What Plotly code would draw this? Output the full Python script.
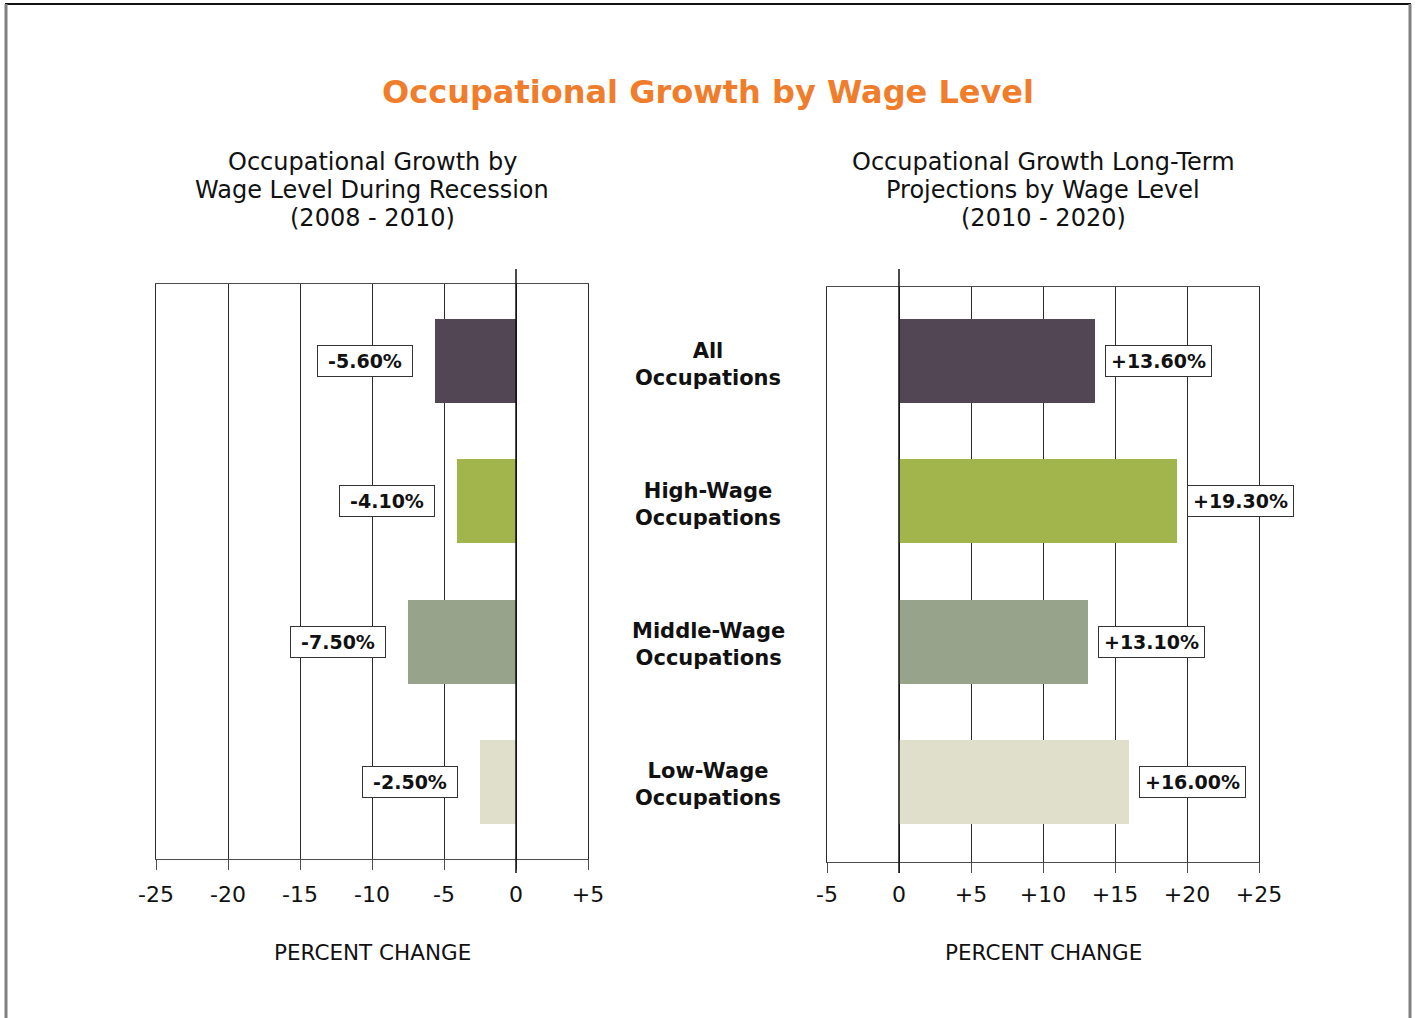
import plotly.graph_objects as go

# ---- data ----
categories = ["All<br>Occupations", "High-Wage<br>Occupations", "Middle-Wage<br>Occupations", "Low-Wage<br>Occupations"]
recession_change = [-5.6, -4.1, -7.5, -2.5]
projection_change = [13.6, 19.3, 13.1, 16.0]
bar_colors = ["#524554", "#A1B54C", "#97A38A", "#DFDFCB"]
left_tickvals = [-25, -20, -15, -10, -5, 0, 5]
left_ticktext = ["-25", "-20", "-15", "-10", "-5", "0", "+5"]
right_tickvals = [-5, 0, 5, 10, 15, 20, 25]
right_ticktext = ["-5", "0", "+5", "+10", "+15", "+20", "+25"]
left_subtitle = ["Occupational Growth by", "Wage Level During Recession", "(2008 - 2010)"]
right_subtitle = ["Occupational Growth Long-Term", "Projections by Wage Level", "(2010 - 2020)"]

W, H = 1418, 1018
FONT = "Verdana, DejaVu Sans, sans-serif"

def px(x):
    return x / W

def py(y):
    return (H - y) / H

ypos = list(range(len(categories)))

fig = go.Figure()
fig.add_trace(go.Bar(x=recession_change, y=ypos, orientation="h", width=0.6,
                     marker=dict(color=bar_colors, line=dict(width=0)),
                     xaxis="x", yaxis="y", hoverinfo="skip", showlegend=False))
fig.add_trace(go.Bar(x=projection_change, y=ypos, orientation="h", width=0.6,
                     marker=dict(color=bar_colors, line=dict(width=0)),
                     xaxis="x2", yaxis="y2", hoverinfo="skip", showlegend=False))

axis_common = dict(showgrid=True, gridcolor="#2b2b2b", gridwidth=1, zeroline=False,
                   showline=True, linecolor="#4d4d4d", linewidth=1, mirror=True,
                   ticks="outside", ticklen=10, tickcolor="#4d4d4d", tickwidth=1,
                   automargin=False,
                   tickfont=dict(family=FONT, size=22, color="#111"), fixedrange=True)
yaxis_common = dict(showticklabels=False, showgrid=False,
                    zeroline=False, showline=True, linecolor="#2b2b2b", linewidth=1,
                    mirror=True, ticks="", fixedrange=True, automargin=False)

shift = 3 / 140.0  # right panel frame sits 3px lower while bars align with left panel

fig.update_layout(
    width=W, height=H, margin=dict(l=0, r=0, t=0, b=0, pad=0, autoexpand=False),
    paper_bgcolor="white", plot_bgcolor="white", bargap=0, showlegend=False,
    xaxis=dict(domain=[px(156), px(588)], range=[-25, 5], tickvals=left_tickvals,
               ticktext=left_ticktext, anchor="y", ticklabelstandoff=6, **axis_common),
    yaxis=dict(domain=[py(859), py(284)], range=[3.55, -0.55], anchor="x", **yaxis_common),
    xaxis2=dict(domain=[px(827), px(1259)], range=[-5, 25], tickvals=right_tickvals,
                ticktext=right_ticktext, anchor="y2", ticklabelstandoff=3, **axis_common),
    yaxis2=dict(domain=[py(862), py(287)], range=[3.55 + shift, -0.55 + shift],
                anchor="x2", **yaxis_common),
)

shapes = [
    # zero lines extending beyond plot area
    dict(type="line", xref="x", yref="paper", x0=0, x1=0, y0=py(873), y1=py(269),
         line=dict(color="#111", width=1.5)),
    dict(type="line", xref="x2", yref="paper", x0=0, x1=0, y0=py(873), y1=py(269),
         line=dict(color="#111", width=1.5)),
    # outer frame
    dict(type="line", xref="paper", yref="paper", x0=px(5), x1=px(1411), y0=py(4), y1=py(4),
         line=dict(color="#111", width=2)),
    dict(type="line", xref="paper", yref="paper", x0=px(6), x1=px(6), y0=py(4), y1=py(1030),
         line=dict(color="#808080", width=3)),
    dict(type="line", xref="paper", yref="paper", x0=px(1410), x1=px(1410), y0=py(4), y1=py(1030),
         line=dict(color="#808080", width=3)),
]
fig.update_layout(shapes=shapes)

ann = []
# main title
ann.append(dict(text="<b>Occupational Growth by Wage Level</b>", xref="paper", yref="paper",
                x=px(708), y=py(92), xanchor="center", yanchor="middle", showarrow=False,
                font=dict(family=FONT, size=32, color="#F07D2B")))
# subtitles (one annotation per line to control spacing)
for lines, cx in ((left_subtitle, 372), (right_subtitle, 1043)):
    for line, cy in zip(lines, (162, 190, 218)):
        ann.append(dict(text=line, xref="paper", yref="paper", x=px(cx), y=py(cy),
                        xanchor="center", yanchor="middle", showarrow=False,
                        font=dict(family=FONT, size=24, color="#111")))
# axis titles
for cx in (372, 1043):
    ann.append(dict(text="PERCENT CHANGE", xref="paper", yref="paper", x=px(cx), y=py(952),
                    xanchor="center", yanchor="middle", showarrow=False,
                    font=dict(family=FONT, size=21.5, color="#111")))
# category labels
for i, c in enumerate(categories):
    ann.append(dict(text="<b>" + c + "</b>", xref="paper", yref="y", x=px(708), y=i,
                    xanchor="center", yanchor="middle", yshift=-3, showarrow=False,
                    align="center", font=dict(family=FONT, size=21, color="#111")))
# value labels
for i, v in enumerate(recession_change):
    ann.append(dict(text="<b>{:.2f}%</b>".format(v), xref="x", yref="y", x=v, y=i,
                    xanchor="right", yanchor="middle", xshift=-22, showarrow=False,
                    width=86, bgcolor="white", bordercolor="#333", borderwidth=1, borderpad=4,
                    font=dict(family=FONT, size=19, color="#111")))
for i, v in enumerate(projection_change):
    ann.append(dict(text="<b>{:+.2f}%</b>".format(v), xref="x2", yref="y2", x=v, y=i,
                    xanchor="left", yanchor="middle", xshift=10, showarrow=False,
                    width=97, bgcolor="white", bordercolor="#333", borderwidth=1, borderpad=4,
                    font=dict(family=FONT, size=19, color="#111")))
fig.update_layout(annotations=ann)

fig.write_html("out.html", config={"displayModeBar": False},
               post_script="document.body.style.margin='0px';document.body.style.overflow='hidden';")
